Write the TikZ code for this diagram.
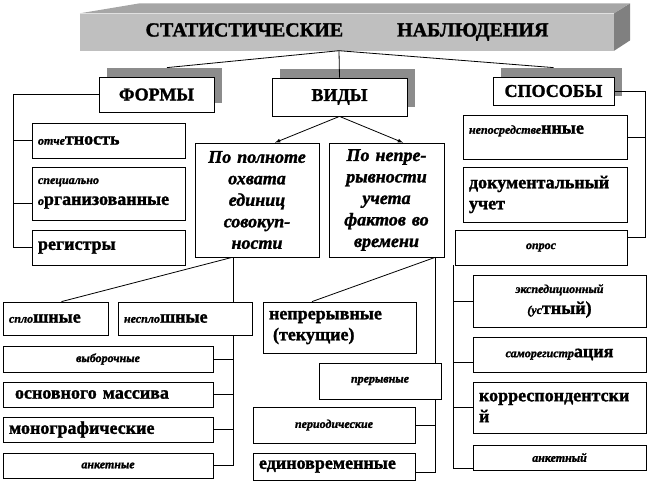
\documentclass[tikz,border=0pt]{standalone}
\usepackage{fontspec}
\setmainfont{Liberation Serif}[BoldFeatures={FakeBold=1.5}, BoldItalicFeatures={FakeBold=1.5}]
\usetikzlibrary{shadows}
\newcommand{\smit}[1]{{\itshape\fontsize{12}{14}\selectfont #1}}

\begin{document}
\begin{tikzpicture}[x=1pt, y=-1pt,
    box/.style={draw, fill=white, line width=0.8pt, inner xsep=6pt, inner ysep=2pt,
        font=\bfseries\fontsize{18}{21}\selectfont},
    hdr/.style={box, general shadow={fill=black!45, shadow xshift=8pt, shadow yshift=9pt}},
    link/.style={line width=0.8pt}]
    \useasboundingbox (0,0) rectangle (649,491);

    % Banner
    \node[fill=black!25, minimum width=534, minimum height=37,
        font=\bfseries\fontsize{20}{24}\selectfont] (banner) at (347,32)
        {СТАТИСТИЧЕСКИЕ\hspace{54pt}НАБЛЮДЕНИЯ};
    \fill[black!35] (banner.north west) -- ++(60,-10) -- ++(490,0) -- (banner.north east) -- cycle;
    \fill[black!50] (banner.north east) -- ++(16,-10) -- ++(0,37) -- (banner.south east) -- cycle;

    % Headers
    \node[hdr, minimum width=115, minimum height=35] (formy) at (156.5,94.5) {ФОРМЫ};
    \node[hdr, minimum width=135, minimum height=38] (vidy) at (339.5,97) {ВИДЫ};
    \node[hdr, minimum width=121, minimum height=28] (spos) at (553.5,91) {СПОСОБЫ};
    \draw[link] ([xshift=-8pt]banner.south) -- ([xshift=10.5pt, yshift=9pt]formy.north);
    \draw[link] ([xshift=-8pt]banner.south) -- (vidy.north);
    \draw[link] ([xshift=-8pt]banner.south) -- ([yshift=9pt]spos.north);

    % Forms
    \node[box, minimum width=153, minimum height=35, text width=141pt, align=left] (otch) at (108.5,140.5)
        {\smit{отче}тность};
    \node[box, minimum width=153, minimum height=53, text width=141pt, align=left] (spec) at (108.5,193.5)
        {\smit{специально}\\ \smit{о}рганизованные};
    \node[box, minimum width=153, minimum height=35, text width=141pt, align=left] (reg) at (108.5,247.5)
        {регистры};
    \coordinate (lbus) at (13,0);
    \draw[link] (formy.west) -- (formy.west -| lbus) |- (reg.west);
    \draw[link] (otch.west) -- (otch.west -| lbus);
    \draw[link] ([yshift=-10pt]spec.west) -- ([yshift=-10pt]spec.west -| lbus);

    % Kinds
    \node[box, minimum width=124, minimum height=114, text width=112pt, align=center,
        font=\bfseries\itshape\fontsize{18}{21.5}\selectfont] (poln) at (257,200)
        {По полноте\\ охвата\\ единиц\\ совокуп-\\ ности};
    \node[box, minimum width=115, minimum height=114, text width=103pt, align=center,
        font=\bfseries\itshape\fontsize{18}{21.5}\selectfont] (nepr) at (386.5,200)
        {По непре-\\ рывности\\ учета\\ фактов во\\ времени};
    \draw[link, -latex] (vidy.south) -- ([xshift=18pt]poln.north);
    \draw[link, -latex] (vidy.south) -- ([xshift=16.5pt]nepr.north);

    % Coverage
    \node[box, minimum width=105, minimum height=33, text width=93pt, align=left] (splo) at (55.5,318.5)
        {\smit{спло}шные};
    \node[box, minimum width=210, minimum height=26] (vyb) at (108,359) {\smit{выборочные}};
    \node[box, minimum width=210, minimum height=25, text width=198pt, align=left] (osn) at (108,394.5)
        {\hspace*{6pt}основного массива};
    \node[box, minimum width=210, minimum height=25, text width=198pt, align=left] (mono) at (108,429.5)
        {монографические};
    \node[box, minimum width=210, minimum height=25] (anke) at (108,465.5) {\smit{анкетные}};
    \coordinate (mbus) at ([xshift=-24pt]poln.south);
    \draw[link] ([xshift=-25pt]poln.south) -- ([xshift=6pt]splo.north);
    \draw[link] (mbus) |- (anke.east);
    \foreach \n in {vyb,osn,mono}
        \draw[link] (\n.east) -- (\n.east -| mbus);
    \node[box, minimum width=134, minimum height=33, text width=122pt, align=left] (nesplo) at (185,318.5)
        {\smit{несплo}шные};

    % Continuity
    \node[box, minimum width=153, minimum height=51, text width=141pt, align=left] (nepre) at (339.5,327.5)
        {непрерывные\\ \hspace*{4pt}(текущие)};
    \node[box, minimum width=162, minimum height=36] (period) at (334,425) {\smit{периодические}};
    \node[box, minimum width=162, minimum height=27, text width=150pt, align=left] (edin) at (334,466.5)
        {единовременные};
    \coordinate (rbus) at ([xshift=48.5pt]nepr.south);
    \draw[link] (rbus) -- ([xshift=-27.5pt]nepre.north);
    \draw[link] (rbus) |- ([yshift=-6pt]edin.east);
    \draw[link] (period.east) -- (period.east -| rbus);
    \node[box, minimum width=122, minimum height=36] (prer) at (380,381) {\smit{прерывные}};

    % Methods
    \node[box, minimum width=164, minimum height=44, text width=152pt, align=left] (nepos) at (545,137)
        {\smit{непосредстве}нные\\[-6pt]\mbox{}};
    \node[box, minimum width=164, minimum height=55, text width=152pt, align=left] (doc) at (545,194.5)
        {документальный\\ учет};
    \node[box, minimum width=172, minimum height=35] (opros) at (541,247.5) {\smit{опрос}};
    \coordinate (sbus) at (645,91);
    \draw[link] (spos.east) -- (spos.east -| sbus) |- ([yshift=10pt]opros.east);
    \draw[link] (nepos.east) -- (nepos.east -| sbus);

    % Survey
    \node[box, minimum width=173, minimum height=52, align=center] (eksp) at (559.5,301)
        {\smit{экспедиционный}\\ \smit{(ус}тный)};
    \node[box, minimum width=173, minimum height=35] (samo) at (559.5,354.5) {\smit{саморегистр}ация};
    \node[box, minimum width=173, minimum height=51, text width=161pt, align=left] (korr) at (559.5,407.5)
        {корреспондентски\\ й};
    \node[box, minimum width=173, minimum height=25] (ank) at (559.5,457.5) {\smit{анкетный}};
    \coordinate (obus) at ([xshift=-1pt]opros.south west);
    \draw[link] (obus) |- ([yshift=-11pt]ank.west);
    \draw[link] (eksp.west) -- (eksp.west -| obus);
    \draw[link] ([yshift=-8pt]samo.west) -- ([yshift=-8pt]samo.west -| obus);
    \draw[link] (korr.west) -- (korr.west -| obus);
\end{tikzpicture}
\end{document}
